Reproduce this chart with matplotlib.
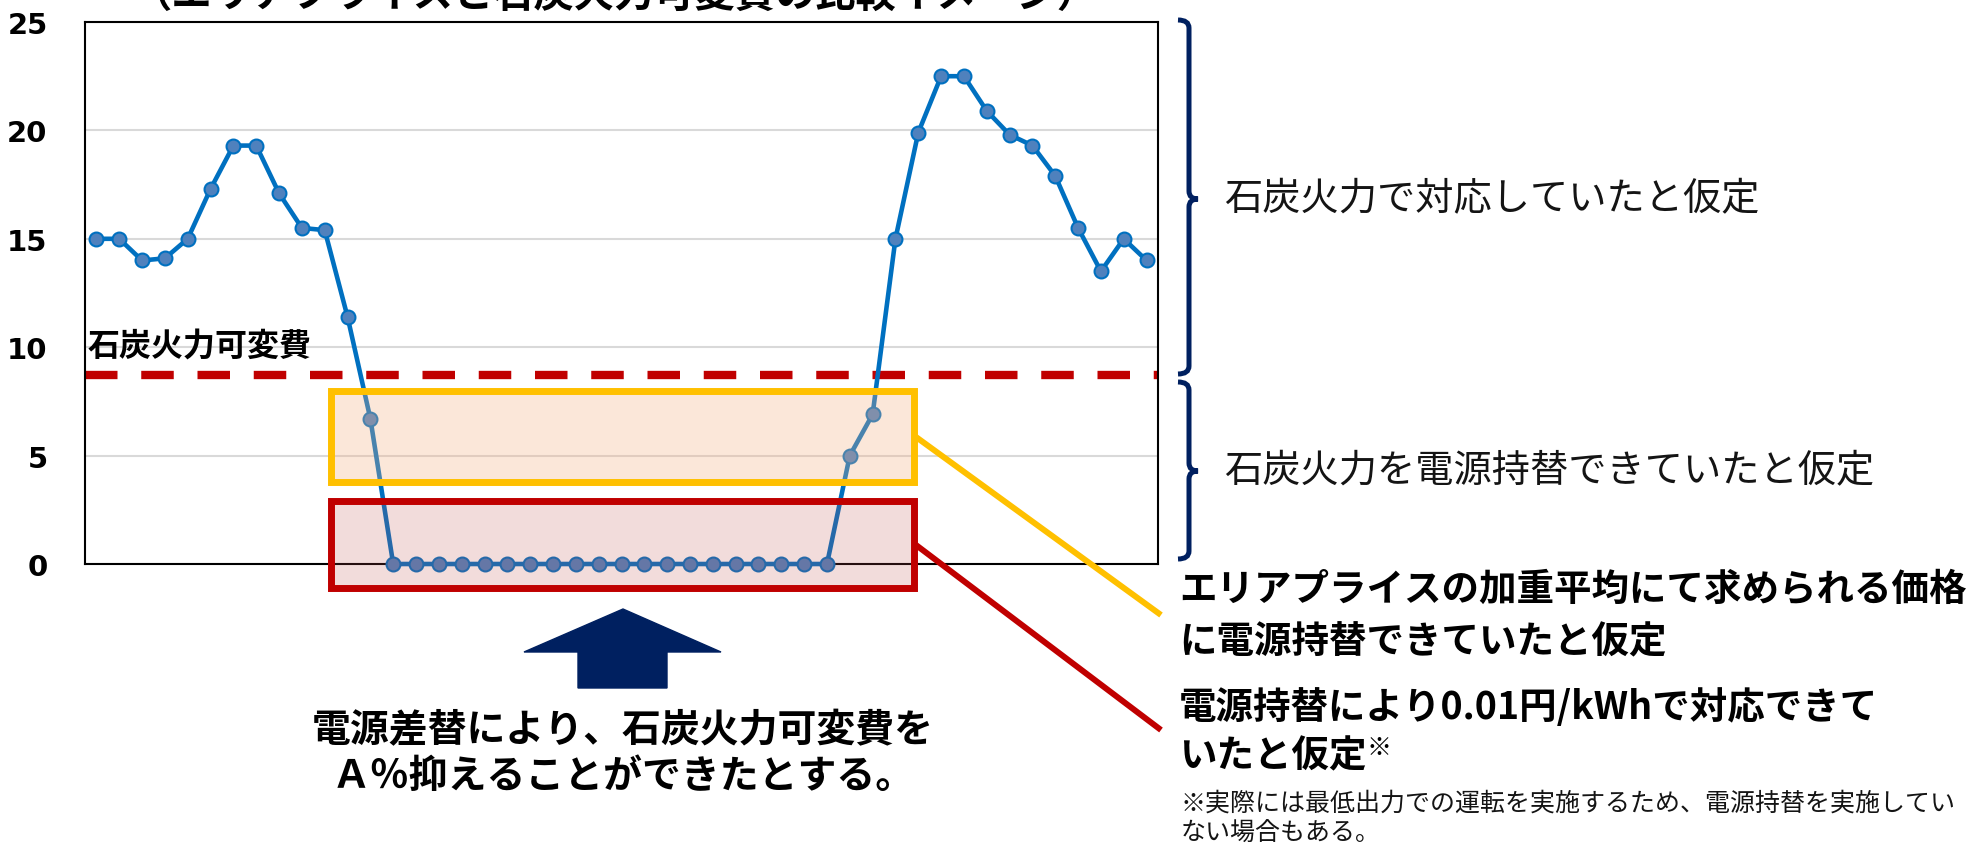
import matplotlib
matplotlib.use("Agg")
import matplotlib.pyplot as plt
from matplotlib.path import Path
from matplotlib.patches import PathPatch, Rectangle, Polygon

plt.rcParams['font.family'] = ['Noto Sans CJK JP', 'DejaVu Sans']

# price per 30 min slot (円/kWh)
prices = [15.0, 15.0, 14.0, 14.1, 15.0, 17.3, 19.3, 19.3, 17.1, 15.5, 15.4, 11.4, 6.7,
          0.0, 0.0, 0.0, 0.0, 0.0, 0.0, 0.0, 0.0, 0.0, 0.0,
          0.0, 0.0, 0.0, 0.0, 0.0, 0.0, 0.0, 0.0, 0.0, 0.0,
          5.0, 6.9, 15.0, 19.9, 22.5, 22.5, 20.9, 19.8, 19.3, 17.9, 15.5, 13.5, 15.0, 14.0]
slots = list(range(len(prices)))
coal_cost = 8.73
yticks = [0, 5, 10, 15, 20, 25]

title = "（エリアプライスと石炭火力可変費の比較イメージ）"
coal_label = "石炭火力可変費"
brace_upper = "石炭火力で対応していたと仮定"
brace_lower = "石炭火力を電源持替できていたと仮定"
yellow_note = ["エリアプライスの加重平均にて求められる価格", "に電源持替できていたと仮定"]
red_note = ["電源持替により0.01円/kWhで対応できて", "いたと仮定"]
footnote = ["※実際には最低出力での運転を実施するため、電源持替を実施してい", "ない場合もある。"]
arrow_note = ["電源差替により、石炭火力可変費を", "Ａ％抑えることができたとする。"]

W, H = 1983, 845
fig = plt.figure(figsize=(W / 100, H / 100), dpi=100)
fig.patch.set_facecolor("white")

# main chart
ax = fig.add_axes([85 / W, 1 - 565 / H, (1158 - 85) / W, (565 - 23) / H])
ax.plot(slots, prices, color="#0070C0", lw=3.3, marker="o", ms=10,
        mfc="#4F81BD", mec="#0070C0", mew=1.5, zorder=3, clip_on=False)
ax.axhline(coal_cost, color="#C00000", lw=6, dashes=(3.9, 2.85), zorder=2)
ax.set_xlim(-0.5, len(prices) - 0.5)
ax.set_ylim(0, 25)
ax.set_xticks([])
ax.set_yticks(yticks)
ax.set_yticklabels([str(v) for v in yticks], fontfamily="DejaVu Sans",
                   fontweight="bold", fontsize=21)
ax.tick_params(axis="y", length=0, pad=27)
ax.yaxis.grid(True, color="#D9D9D9", lw=1.5)
ax.set_axisbelow(True)
for s in ax.spines.values():
    s.set_color("black")
    s.set_linewidth(1.5)

# overlay in pixel coords for the annotations
ov = fig.add_axes([0, 0, 1, 1])
ov.set_xlim(0, W)
ov.set_ylim(H, 0)
ov.axis("off")
ov.patch.set_visible(False)

# boxes
ov.add_patch(Rectangle((331, 392), 914 - 331, 483 - 392, facecolor="#F4B183",
                       alpha=0.3, edgecolor="none"))
ov.add_patch(Rectangle((331, 392), 914 - 331, 483 - 392, facecolor="none",
                       edgecolor="#FFC000", lw=5))
ov.add_patch(Rectangle((331, 502), 914 - 331, 589 - 502, facecolor="#C0504D",
                       alpha=0.2, edgecolor="none"))
ov.add_patch(Rectangle((331, 502), 914 - 331, 589 - 502, facecolor="none",
                       edgecolor="#C00000", lw=5))

# connector lines
ov.plot([916, 1161], [438, 616], color="#FFC000", lw=4.3, solid_capstyle="butt")
ov.plot([916, 1161], [546, 731], color="#C00000", lw=4.3, solid_capstyle="butt")


def brace(x, y0, y1, ym, w=11, tip=9, r=8):
    verts = [(x - w, y0), (x, y0), (x, y0 + r),
             (x, ym - r), (x, ym), (x + tip, ym),
             (x, ym), (x, ym + r),
             (x, y1 - r), (x, y1), (x - w, y1)]
    codes = [Path.MOVETO, Path.CURVE3, Path.CURVE3,
             Path.LINETO, Path.CURVE3, Path.CURVE3,
             Path.CURVE3, Path.CURVE3,
             Path.LINETO, Path.CURVE3, Path.CURVE3]
    ov.add_patch(PathPatch(Path(verts, codes), facecolor="none",
                           edgecolor="#002060", lw=3.6, capstyle="butt"))


brace(1189, 21, 375, 200)
brace(1189, 383, 560, 472)

# up arrow
ov.add_patch(Polygon([(623, 610), (721, 653), (667, 653), (667, 689),
                      (578, 689), (578, 653), (524, 653)], closed=True,
                     facecolor="#002060", edgecolor="#002060", lw=1))

# texts
ov.text(614, 7, title, ha="center", va="baseline", fontsize=29, fontweight="bold")
ov.text(88, 347, coal_label, ha="left", va="center", fontsize=23, fontweight="bold")
ov.text(1224, 200, brace_upper, ha="left", va="center", fontsize=27.5, color="#141414")
ov.text(1224, 472, brace_lower, ha="left", va="center", fontsize=27.5, color="#141414")
ov.text(1179, 589, yellow_note[0], ha="left", va="center", fontsize=27, fontweight="bold")
ov.text(1179, 642, yellow_note[1], ha="left", va="center", fontsize=27, fontweight="bold")
ov.text(1179, 708, red_note[0], ha="left", va="center", fontsize=27, fontweight="bold")
ov.text(1179, 756, red_note[1], ha="left", va="center", fontsize=27, fontweight="bold")
ov.text(1366, 748, "※", ha="left", va="center", fontsize=18, fontweight="bold")
ov.text(1181, 804, footnote[0], ha="left", va="center", fontsize=18, color="#141414")
ov.text(1181, 834, footnote[1], ha="left", va="center", fontsize=18, color="#141414")
ov.text(623, 731, arrow_note[0], ha="center", va="center", fontsize=28, fontweight="bold")
ov.text(623, 777, arrow_note[1], ha="center", va="center", fontsize=28, fontweight="bold")

fig.savefig("out.png", dpi=100)
